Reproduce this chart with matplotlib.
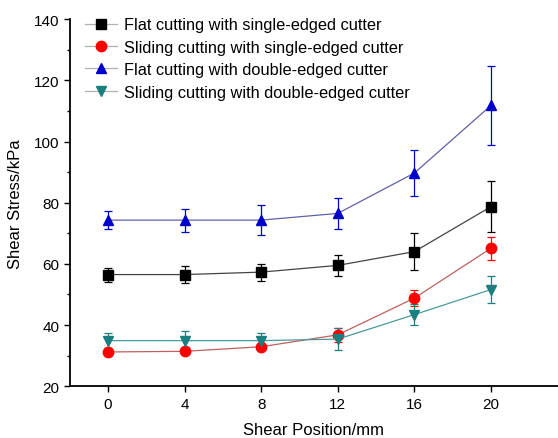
import numpy as np
import matplotlib.pyplot as plt
from matplotlib.lines import Line2D

plt.rcParams['font.family'] = ['Liberation Sans', 'DejaVu Sans']

# shear position (mm)
positions = [0, 4, 8, 12, 16, 20]

# shear stress (kPa) and error bars
flat_single = [56.5, 56.5, 57.3, 59.5, 64.0, 78.7]
flat_single_err = [2.3, 2.7, 2.8, 3.4, 6.0, 8.3]

slide_single = [31.2, 31.4, 32.9, 36.8, 48.8, 65.1]
slide_single_err = [0.6, 0.6, 0.8, 2.3, 2.6, 3.8]

flat_double = [74.3, 74.3, 74.3, 76.5, 89.7, 111.8]
flat_double_err = [3.0, 3.8, 5.0, 5.0, 7.5, 13.0]

slide_double = [34.9, 34.9, 34.9, 35.4, 43.4, 51.6]
slide_double_err = [2.5, 3.0, 2.5, 3.5, 3.5, 4.4]

labels = ['Flat cutting with single-edged cutter',
          'Sliding cutting with single-edged cutter',
          'Flat cutting with double-edged cutter',
          'Sliding cutting with double-edged cutter']

fig = plt.figure(figsize=(5.58, 4.39), dpi=100)
ax = fig.add_axes([0.125, 0.118, 0.875, 0.836])

series = [
    (flat_single, flat_single_err, 'black', '#444444', 's', 6.5),
    (slide_single, slide_single_err, 'red', '#c06060', 'o', 7.5),
    (flat_double, flat_double_err, '#0000cc', '#6060a8', '^', 7.5),
    (slide_double, slide_double_err, '#1a7f7f', '#4a9a9a', 'v', 7.5),
]

handles = []
for (y, e, c, lc, m, ms), lab in zip(series, labels):
    ax.errorbar(positions, y, yerr=e, color=lc, ecolor=c, elinewidth=0.9,
                capsize=3, capthick=0.9, lw=0.9, marker=m, ms=ms,
                mfc=c, mec=c)
    handles.append(Line2D([], [], color='#b0b0b0', lw=0.9, marker=m, ms=ms,
                          mfc=c, mec=c, label=lab))

ax.set_xlim(-2, 23.5)
ax.set_ylim(20, 140)
ax.set_xticks(positions)
ax.set_yticks(np.arange(20, 141, 20))
ax.set_yticks(np.arange(30, 140, 20), minor=True)
ax.tick_params(direction='out', labelsize=11, width=1, length=4)
ax.tick_params(which='minor', direction='out', width=1, length=2.5)
for s in ['top', 'right']:
    ax.spines[s].set_visible(False)
for s in ['left', 'bottom']:
    ax.spines[s].set_linewidth(1.3)

ax.set_xlabel('Shear Position/mm', fontsize=12, labelpad=8)
ax.set_ylabel('Shear Stress/kPa', fontsize=12, labelpad=8)

ax.legend(handles=handles, loc='upper left', bbox_to_anchor=(0.0, 1.045),
          frameon=False, fontsize=11.8, handlelength=2.0, labelspacing=0.45,
          handletextpad=0.4)

fig.savefig('out.png', dpi=100)
